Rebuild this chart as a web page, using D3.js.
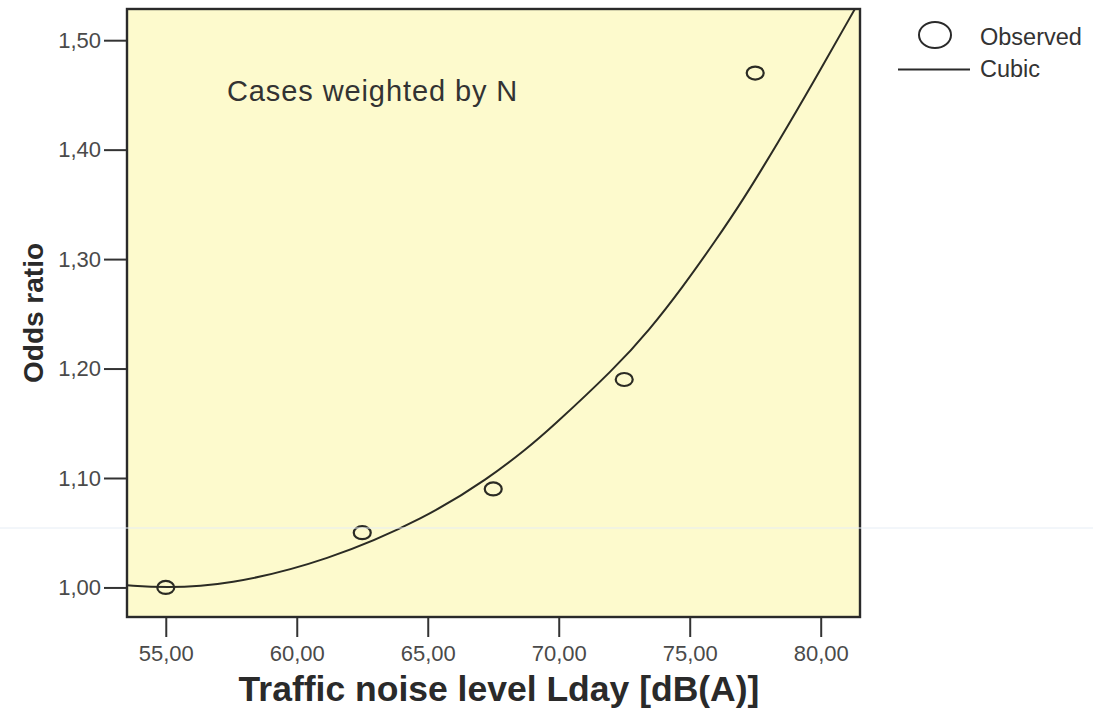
<!DOCTYPE html>
<html>
<head>
<meta charset="utf-8">
<script src="https://cdn.jsdelivr.net/npm/d3@7"></script>
<style>
  body { margin: 0; background: #fff; }
  text { font-family: "Liberation Sans", Arial, sans-serif; }
</style>
</head>
<body>
<div id="chart"></div>
<script>
// observed odds ratios per noise band
var noiseLevels = [55, 62.5, 67.5, 72.5, 77.5];
var oddsRatios = [1.00, 1.05, 1.09, 1.19, 1.47];

// cubic fit line
var fitX = [53.52, 54.92, 57.34, 61.16, 64.97, 67.34, 68.79, 69.63, 72.18, 73.45, 74.72, 75.99, 77.01, 78.41, 79.68, 81.34];
var fitY = [1.002, 0.9995, 1.002, 1.024, 1.064, 1.100, 1.127, 1.144, 1.201, 1.235, 1.274, 1.317, 1.353, 1.408, 1.460, 1.530];

var xTicks = [55, 60, 65, 70, 75, 80];
var yTicks = [1.00, 1.10, 1.20, 1.30, 1.40, 1.50];

var W = 1093, H = 711;
var pl = 127, pt = 9, pr = 860, pb = 617;

var svg = d3.select("#chart").append("svg")
    .attr("width", W).attr("height", H);

var x = d3.scaleLinear().domain([53.52, 81.50]).range([pl, pr]);
var y = d3.scaleLinear().domain([0.973, 1.5285]).range([pb, pt]);

var fmt = function(d){ return d3.format(".2f")(d).replace(".", ","); };

// plot background
svg.append("rect")
    .attr("x", pl).attr("y", pt)
    .attr("width", pr - pl).attr("height", pb - pt)
    .attr("fill", "#fdfacd");

svg.append("clipPath").attr("id", "clip")
  .append("rect")
    .attr("x", pl).attr("y", pt)
    .attr("width", pr - pl).attr("height", pb - pt);

// fit line
var pts = fitX.map(function(d, i){ return [d, fitY[i]]; });
var line = d3.line()
    .x(function(d){ return x(d[0]); })
    .y(function(d){ return y(d[1]); })
    .curve(d3.curveBasis);

svg.append("path")
    .datum(pts)
    .attr("clip-path", "url(#clip)")
    .attr("fill", "none")
    .attr("stroke", "#2b2b24")
    .attr("stroke-width", 2)
    .attr("d", line);

// observed points
svg.selectAll(".obs")
    .data(noiseLevels)
    .enter().append("ellipse")
    .attr("class", "obs")
    .attr("cx", function(d){ return x(d); })
    .attr("cy", function(d, i){ return y(oddsRatios[i]); })
    .attr("rx", 8.5).attr("ry", 6.5)
    .attr("fill", "none")
    .attr("stroke", "#2b2b24")
    .attr("stroke-width", 2.2);

// frame
svg.append("rect")
    .attr("x", pl).attr("y", pt)
    .attr("width", pr - pl).attr("height", pb - pt)
    .attr("fill", "none")
    .attr("stroke", "#2a2a2a")
    .attr("stroke-width", 2.4);

// axes
var xAxis = d3.axisBottom(x).tickValues(xTicks).tickSize(19).tickPadding(8).tickFormat(fmt);
var yAxis = d3.axisLeft(y).tickValues(yTicks).tickSize(22).tickPadding(3).tickFormat(fmt);

var gx = svg.append("g")
    .attr("transform", "translate(0," + (pb + 1) + ")")
    .call(xAxis);
var gy = svg.append("g")
    .attr("transform", "translate(" + (pl - 1) + ",0)")
    .call(yAxis);

[gx, gy].forEach(function(g){
    g.select(".domain").remove();
    g.selectAll(".tick line").attr("stroke", "#333").attr("stroke-width", 2);
    g.selectAll(".tick text")
        .attr("fill", "#4a4a4a")
        .style("font-size", "22px");
});

// axis titles
svg.append("text")
    .attr("x", 499).attr("y", 701)
    .attr("text-anchor", "middle")
    .style("font-size", "35.5px")
    .style("font-weight", "bold")
    .attr("fill", "#2a2a2a")
    .text("Traffic noise level Lday [dB(A)]");

svg.append("text")
    .attr("transform", "translate(43,313) rotate(-90)")
    .attr("text-anchor", "middle")
    .style("font-size", "28px")
    .style("font-weight", "bold")
    .attr("fill", "#2a2a2a")
    .text("Odds ratio");

svg.append("text")
    .attr("x", 227).attr("y", 101)
    .style("font-size", "29px")
    .style("letter-spacing", "0.9px")
    .attr("fill", "#333")
    .text("Cases weighted by N");

// legend
svg.append("ellipse")
    .attr("cx", 935).attr("cy", 35)
    .attr("rx", 16).attr("ry", 13)
    .attr("fill", "none")
    .attr("stroke", "#2a2a2a")
    .attr("stroke-width", 2);
svg.append("text")
    .attr("x", 980).attr("y", 45)
    .style("font-size", "23.5px")
    .attr("fill", "#333")
    .text("Observed");
svg.append("line")
    .attr("x1", 898).attr("x2", 970)
    .attr("y1", 69.5).attr("y2", 69.5)
    .attr("stroke", "#2a2a2a")
    .attr("stroke-width", 2);
svg.append("text")
    .attr("x", 980).attr("y", 77)
    .style("font-size", "23.5px")
    .attr("fill", "#333")
    .text("Cubic");

// faint scan line across the picture
svg.append("line")
    .attr("x1", 0).attr("x2", W)
    .attr("y1", 528).attr("y2", 528)
    .attr("stroke", "#e6edf5")
    .attr("stroke-width", 1);
</script>
</body>
</html>
